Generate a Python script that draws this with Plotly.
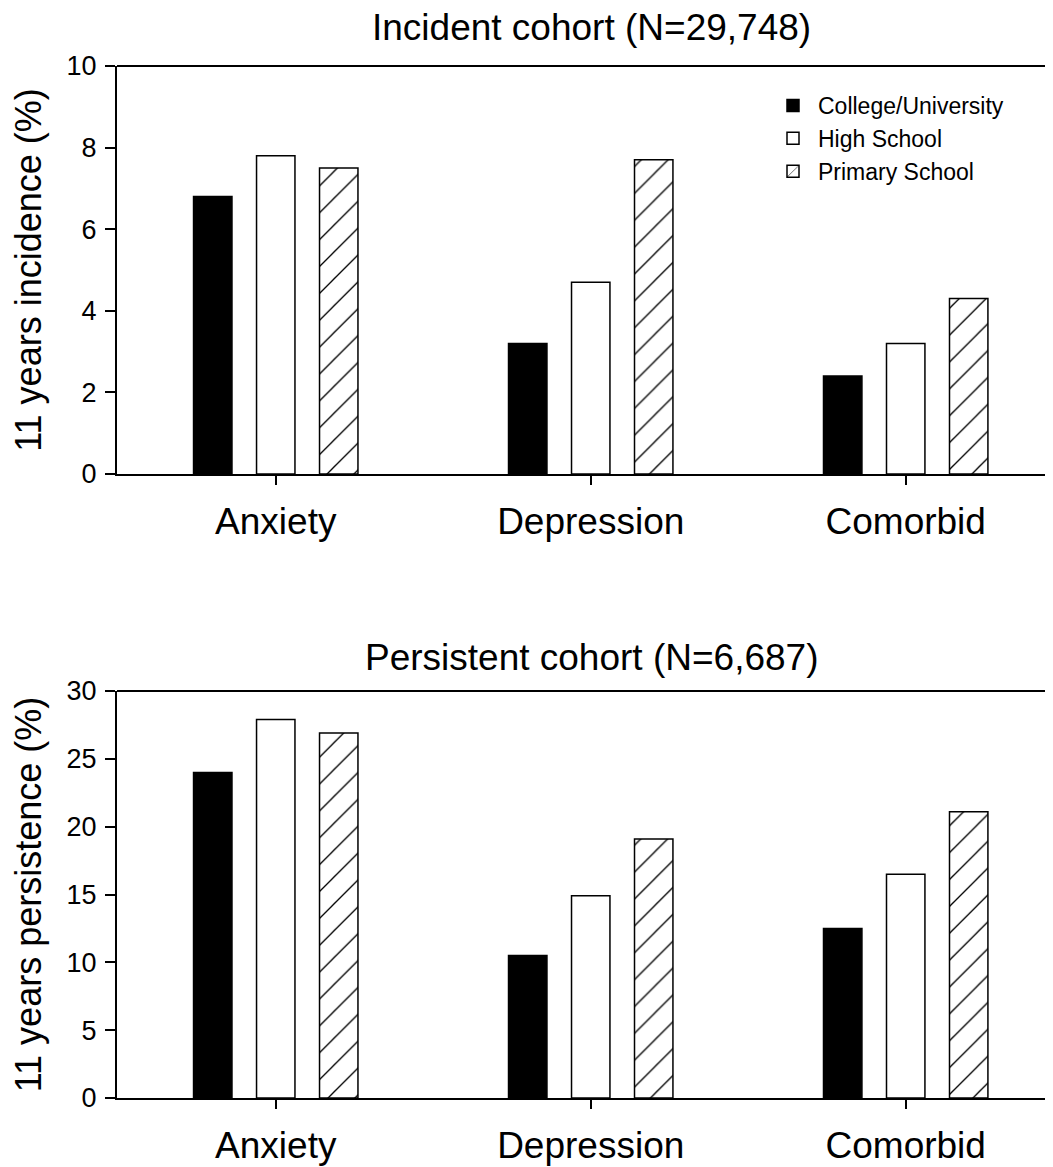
import plotly.graph_objects as go
from plotly.subplots import make_subplots

categories = ["Anxiety", "Depression", "Comorbid"]
series_names = ["College/University", "High School", "Primary School"]
incidence_college = [6.8, 3.2, 2.4]
incidence_high = [7.8, 4.7, 3.2]
incidence_primary = [7.5, 7.7, 4.3]
persistence_college = [24.0, 10.5, 12.5]
persistence_high = [27.9, 14.9, 16.5]
persistence_primary = [26.9, 19.1, 21.1]
y1_ticks = [0, 2, 4, 6, 8, 10]
y2_ticks = [0, 5, 10, 15, 20, 25, 30]

FONT = "Liberation Sans, Arial, sans-serif"
OFF = 8  # page body margin offset
W, H = 1053, 1167
# screen-space targets converted to figure space
L = 117 - OFF
T = 66 - OFF
B = H - (1098 - OFF)
R = 0

fig = make_subplots(rows=2, cols=1, vertical_spacing=0.0)

bar_w = 0.122
centers = [-0.2, 0.0, 0.2]
styles = [
    dict(color="black", pattern=dict(shape="")),
    dict(color="white", pattern=dict(shape="")),
    dict(color="white", pattern=dict(shape="/", fgcolor="black", bgcolor="white",
                                     size=19, solidity=0.07, fillmode="replace")),
]

data_top = [incidence_college, incidence_high, incidence_primary]
data_bot = [persistence_college, persistence_high, persistence_primary]

for i, name in enumerate(series_names):
    st = styles[i]
    marker = dict(color=st["color"], line=dict(color="black", width=1.5), pattern=st["pattern"])
    fig.add_trace(go.Bar(x=categories, y=data_top[i], name=name, width=bar_w,
                         offset=centers[i] - bar_w / 2, marker=marker,
                         showlegend=True, legendgroup=name), row=1, col=1)
    fig.add_trace(go.Bar(x=categories, y=data_bot[i], name=name, width=bar_w,
                         offset=centers[i] - bar_w / 2, marker=marker,
                         showlegend=False, legendgroup=name), row=2, col=1)

plot_h = H - T - B
plot_w = W - L - R


def py(screen_y):
    return (H - B - (screen_y - OFF)) / plot_h


def px(screen_x):
    return (screen_x - OFF - L) / plot_w


top_dom = [py(474), 1.0]
bot_dom = [0.0, py(691)]

xcommon = dict(range=[-0.504, 2.493], showline=True, linecolor="black", linewidth=2,
               ticks="outside", ticklen=9, tickwidth=1.5, tickcolor="black",
               tickfont=dict(family=FONT, size=37, color="black"),
               showgrid=False, zeroline=False, ticklabelstandoff=5)
ycommon = dict(showline=True, linecolor="black", linewidth=2, ticks="outside",
               ticklen=10, tickwidth=1.5, tickcolor="black",
               tickfont=dict(family=FONT, size=27, color="black"),
               showgrid=False, zeroline=False, ticklabelstandoff=3)

fig.update_xaxes(**xcommon, row=1, col=1)
fig.update_xaxes(**xcommon, row=2, col=1)
fig.update_yaxes(**ycommon, range=[0, 10], tickvals=y1_ticks, domain=top_dom,
                 title=dict(text="11 years incidence (%)", standoff=16,
                            font=dict(family=FONT, size=36, color="black")), row=1, col=1)
fig.update_yaxes(**ycommon, range=[0, 30], tickvals=y2_ticks, domain=bot_dom,
                 title=dict(text="11 years persistence (%)", standoff=16,
                            font=dict(family=FONT, size=36, color="black")), row=2, col=1)

# top frame lines
for yref, xr in [("y domain", "x domain"), ("y2 domain", "x2 domain")]:
    fig.add_shape(type="line", xref=xr, yref=yref, x0=0, x1=1, y0=1, y1=1,
                  line=dict(color="black", width=2))

fig.add_annotation(text="Incident cohort (N=29,748)", xref="paper", yref="paper",
                   x=px(591), y=py(28),
                   xanchor="center", yanchor="middle", showarrow=False,
                   font=dict(family=FONT, size=37, color="black"))
fig.add_annotation(text="Persistent cohort (N=6,687)", xref="paper", yref="paper",
                   x=px(591), y=py(657),
                   xanchor="center", yanchor="middle", showarrow=False,
                   font=dict(family=FONT, size=37, color="black"))

fig.update_layout(
    width=W, height=H,
    margin=dict(l=L, r=R, t=T, b=B, autoexpand=False),
    barmode="overlay",
    plot_bgcolor="white", paper_bgcolor="white",
    legend=dict(x=px(768), y=py(84), xanchor="left", yanchor="top",
                font=dict(family=FONT, size=23, color="black"), bgcolor="rgba(0,0,0,0)",
                itemwidth=40, tracegroupgap=0),
)

fig.write_html("out.html")
